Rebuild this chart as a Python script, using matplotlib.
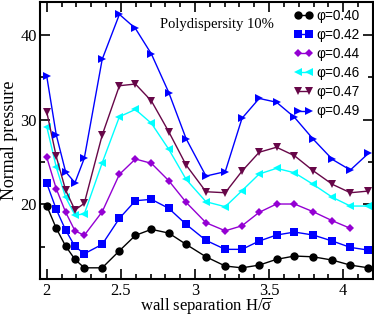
import matplotlib
matplotlib.use("Agg")
import matplotlib.pyplot as plt
from matplotlib.ticker import MultipleLocator

plt.rcParams['mathtext.fontset'] = 'custom'
plt.rcParams['mathtext.rm'] = 'Liberation Serif'
plt.rcParams['mathtext.it'] = 'Liberation Serif'

H = [2.00, 2.064, 2.127, 2.19, 2.253, 2.374, 2.49, 2.598, 2.706, 2.823, 2.94,
     3.074, 3.204, 3.317, 3.433, 3.55, 3.671, 3.797, 3.927, 4.048, 4.17]

p040 = [19.83, 17.17, 15.08, 13.51, 12.51, 12.51, 14.52, 16.34, 17.05, 16.61, 15.28,
        13.81, 12.72, 12.51, 12.83, 13.51, 13.90, 13.81, 13.42, 12.83, 12.51]
p042 = [22.48, 19.41, 16.97, 15.04, 14.17, 15.28, 18.35, 20.43, 20.59, 19.53, 17.64,
        15.75, 14.69, 14.69, 15.67, 16.38, 16.73, 16.38, 15.67, 14.92, 14.60]
p044 = [25.55, 21.84, 19.09, 16.88, 16.34, 19.13, 23.54, 25.35, 24.84, 22.79, 20.24,
        17.83, 16.88, 17.47, 19.06, 20.04, 20.04, 19.13, 18.06, 17.17]
p046 = [29.16, 24.4, 20.85, 18.74, 18.85, 24.9, 30.34, 31.2, 29.56, 26.5, 22.95,
        20.31, 19.72, 21.61, 23.58, 24.25, 23.73, 22.36, 20.83, 19.8, 19.8]
p047 = [30.9, 25.65, 21.69, 19.33, 20.12, 28.18, 34.0, 34.2, 32.2, 28.57, 24.64,
        21.49, 21.37, 23.92, 26.15, 26.74, 25.74, 23.97, 22.36, 21.37, 21.57]
p049 = [35.1, 28.2, 23.85, 22.55, 25.43, 37.12, 42.42, 40.76, 37.74, 33.2, 27.75,
        23.34, 23.86, 30.15, 32.5, 32.05, 30.27, 27.7, 25.3, 24.05, 26.02]

labels = ["φ=0.40", "φ=0.42", "φ=0.44", "φ=0.46", "φ=0.47", "φ=0.49"]
series = [p040, p042, p044, p046, p047, p049]
colors = ["#000000", "#0000ff", "#9400d3", "#00ffff", "#670748", "#0000ff"]
markers = ["o", "s", "D", "<", "v", ">"]
msizes = [6, 5.5, 4.5, 6, 6, 6]

fig = plt.figure(figsize=(3.74, 3.16), dpi=100)
ax = fig.add_axes([0.108, 0.116, 0.889, 0.879])

for y, lab, c, m, ms in zip(series, labels, colors, markers, msizes):
    ax.plot(H[:len(y)], y, color=c, marker=m, markersize=ms, lw=1.0,
            markeredgewidth=0, label=lab)

ax.set_xlim(1.957, 4.2)
ax.set_ylim(11.15, 43.93)
ax.xaxis.set_major_locator(MultipleLocator(0.5))
ax.xaxis.set_minor_locator(MultipleLocator(0.1))
ax.yaxis.set_major_locator(MultipleLocator(10))
ax.yaxis.set_minor_locator(MultipleLocator(5))
ax.set_xticks([2, 2.5, 3, 3.5, 4])
ax.set_xticklabels(["2", "2.5", "3", "3.5", "4"])
ax.tick_params(which='both', direction='in', top=True, right=True, width=1.2)
ax.tick_params(which='major', length=7, labelsize=11.8, pad=2.5)
ax.tick_params(which='minor', length=3.5)
for lab in ax.get_xticklabels() + ax.get_yticklabels():
    lab.set_fontfamily('Liberation Serif')
for s in ax.spines.values():
    s.set_linewidth(1.5)

ax.set_ylabel("Normal pressure", fontsize=13, family='Liberation Serif', labelpad=2)
ax.set_xlabel(r"wall separation H/$\overline{\mathrm{\sigma}}$", fontsize=12,
              family='Liberation Serif', va='baseline')
ax.xaxis.set_label_coords(0.498, (279.3 - 311) / 277.6)

ax.text(0.36, 0.916, "Polydispersity 10%", transform=ax.transAxes,
        fontsize=10.5, family='Liberation Serif', va='center', ha='left')

leg = ax.legend(loc='upper right', bbox_to_anchor=((360 - 40.5) / 332.5, 0.975),
                frameon=False, numpoints=2, handlelength=1.4, handletextpad=0.25,
                labelspacing=0.38, borderaxespad=0.0, borderpad=0.0,
                prop={'family': 'Liberation Sans', 'size': 9.8})

fig.savefig("out.png", dpi=100)
